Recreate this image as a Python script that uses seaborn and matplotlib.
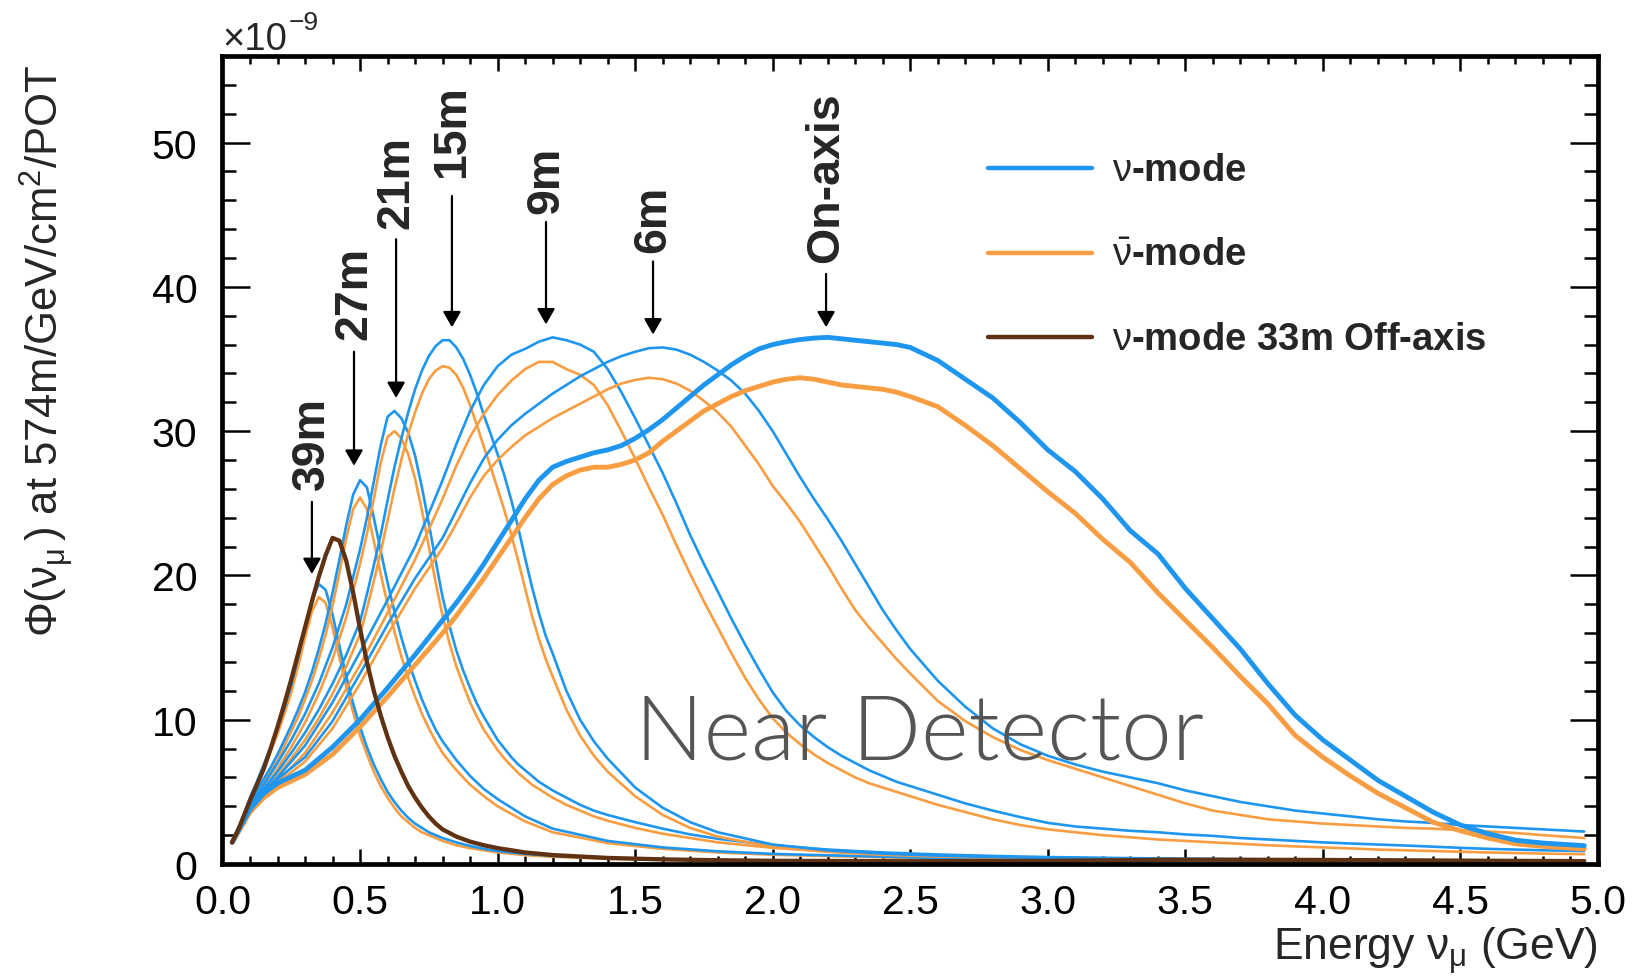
import matplotlib
matplotlib.use("Agg")
import matplotlib.pyplot as plt
from matplotlib.lines import Line2D
from matplotlib.ticker import MultipleLocator, FormatStrFormatter
import seaborn as sns
import pandas as pd

# ---------------------------------------------------------------- data
# energy sampling (GeV): fine for the narrow far off-axis peaks,
# coarser for the broad near-axis spectra
energy_narrow = [0.035, 0.06, 0.1, 0.125, 0.15, 0.175, 0.2, 0.225, 0.25, 0.275,
                 0.3, 0.325, 0.35, 0.375, 0.4, 0.425, 0.45, 0.475, 0.5, 0.525,
                 0.55, 0.575, 0.6, 0.625, 0.65, 0.675, 0.7, 0.725, 0.75, 0.775,
                 0.8, 0.85, 0.9, 0.95, 1.0, 1.1, 1.2, 1.4, 1.6, 1.8,
                 2.0, 2.5, 3.0, 3.5, 4.0, 4.5, 4.95]
energy_mid = [0.035, 0.06, 0.1, 0.15, 0.2, 0.25, 0.3, 0.35, 0.4, 0.45,
              0.5, 0.525, 0.55, 0.575, 0.6, 0.625, 0.65, 0.675, 0.7, 0.725,
              0.75, 0.775, 0.8, 0.825, 0.85, 0.875, 0.9, 0.925, 0.95, 0.975,
              1.0, 1.025, 1.05, 1.075, 1.1, 1.125, 1.15, 1.175, 1.2, 1.25,
              1.3, 1.35, 1.4, 1.5, 1.6, 1.7, 1.8, 2.0, 2.2, 2.4,
              2.6, 2.8, 3.0, 3.5, 4.0, 4.5, 4.95]
energy_wide = [0.035, 0.06, 0.1, 0.15, 0.2, 0.3, 0.4, 0.5, 0.6, 0.7,
               0.8, 0.85, 0.9, 0.95, 1.0, 1.05, 1.1, 1.15, 1.2, 1.25,
               1.3, 1.35, 1.4, 1.45, 1.5, 1.55, 1.6, 1.65, 1.7, 1.75,
               1.8, 1.85, 1.9, 1.95, 2.0, 2.05, 2.1, 2.15, 2.2, 2.25,
               2.3, 2.35, 2.4, 2.45, 2.5, 2.6, 2.7, 2.8, 2.9, 3.0,
               3.1, 3.2, 3.3, 3.4, 3.5, 3.6, 3.7, 3.8, 3.9, 4.0,
               4.1, 4.2, 4.3, 4.4, 4.5, 4.6, 4.7, 4.8, 4.95]

# numu flux at 574 m, in units of 1e-9 /GeV/cm2/POT
nu_39m = [1.5, 2.5, 4.6, 5.7, 6.9, 8.1, 9.4, 10.8, 12.4, 14.3,
          16.4, 18.3, 19.4, 19.0, 17.3, 15.1, 13.0, 11.1, 9.5, 8.1,
          6.9, 5.9, 5.0, 4.3, 3.7, 3.2, 2.8, 2.5, 2.2, 2.0,
          1.8, 1.5, 1.25, 1.05, 0.9, 0.7, 0.56, 0.41, 0.32, 0.27,
          0.23, 0.17, 0.14, 0.12, 0.11, 0.1, 0.09]
nubar_39m = [1.5, 2.4, 4.4, 5.5, 6.6, 7.8, 9.0, 10.4, 11.9, 13.7,
             15.7, 17.5, 18.5, 18.1, 16.4, 14.3, 12.3, 10.5, 8.9, 7.6,
             6.4, 5.4, 4.6, 3.9, 3.3, 2.9, 2.5, 2.2, 2.0, 1.8,
             1.6, 1.3, 1.1, 0.95, 0.8, 0.62, 0.5, 0.36, 0.29, 0.24,
             0.2, 0.15, 0.13, 0.12, 0.1, 0.09, 0.08]
nu_33m = [1.5, 2.5, 4.4, 5.5, 6.6, 8.0, 9.5, 11.1, 12.8, 14.6,
          16.4, 18.2, 19.9, 21.4, 22.6, 22.4, 21.0, 18.8, 16.3, 14.0,
          12.0, 10.3, 8.8, 7.5, 6.4, 5.4, 4.6, 3.9, 3.3, 2.8,
          2.4, 1.9, 1.55, 1.3, 1.1, 0.8, 0.62, 0.42, 0.32, 0.26,
          0.22, 0.19, 0.22, 0.3, 0.28, 0.23, 0.2]
nu_27m = [1.5, 2.6, 4.3, 5.1, 5.9, 6.7, 7.6, 8.6, 9.6, 10.7,
          11.9, 13.3, 14.9, 16.7, 18.8, 21.1, 23.5, 25.6, 26.6, 26.1,
          24.0, 21.7, 19.5, 17.5, 15.7, 14.1, 12.7, 11.4, 10.3, 9.3,
          8.5, 7.2, 6.1, 5.2, 4.5, 3.3, 2.45, 1.6, 1.15, 0.88,
          0.7, 0.46, 0.32, 0.26, 0.22, 0.2, 0.17]
nubar_27m = [1.5, 2.5, 4.1, 4.9, 5.6, 6.4, 7.2, 8.2, 9.2, 10.2,
             11.4, 12.7, 14.2, 15.9, 17.9, 20.2, 22.6, 24.6, 25.4, 24.6,
             22.4, 20.1, 18.0, 16.1, 14.4, 12.9, 11.6, 10.4, 9.4, 8.5,
             7.7, 6.5, 5.5, 4.7, 4.0, 2.95, 2.2, 1.45, 1.05, 0.8,
             0.64, 0.42, 0.3, 0.24, 0.2, 0.18, 0.15]

nu_21m = [1.5, 2.6, 4.1, 5.5, 7.0, 8.6, 10.4, 12.5, 15.0, 18.0,
          21.8, 24.0, 26.5, 29.0, 31.0, 31.4, 30.9, 29.9, 28.3, 26.1,
          23.6, 21.0, 18.5, 16.5, 14.8, 13.4, 12.2, 11.1, 10.2, 9.4,
          8.6, 8.0, 7.4, 6.9, 6.5, 6.1, 5.7, 5.4, 5.1, 4.6,
          4.1, 3.7, 3.4, 2.9, 2.45, 2.05, 1.75, 1.3, 1.0, 0.8,
          0.66, 0.56, 0.48, 0.36, 0.3, 0.26, 0.23]
nubar_21m = [1.5, 2.5, 3.9, 5.2, 6.6, 8.1, 9.8, 11.8, 14.2, 17.1,
             20.8, 22.9, 25.3, 27.8, 29.6, 30.0, 29.5, 28.4, 26.7, 24.5,
             22.0, 19.5, 17.2, 15.3, 13.7, 12.4, 11.2, 10.2, 9.3, 8.6,
             7.9, 7.3, 6.8, 6.3, 5.9, 5.5, 5.2, 4.9, 4.6, 4.1,
             3.7, 3.3, 3.0, 2.5, 2.1, 1.8, 1.5, 1.12, 0.87, 0.7,
             0.58, 0.5, 0.43, 0.32, 0.27, 0.23, 0.2]
nu_15m = [1.5, 2.5, 4.0, 5.2, 6.4, 7.7, 9.1, 10.7, 12.5, 14.5,
          16.8, 18.7, 20.7, 22.8, 25.2, 27.5, 29.5, 31.3, 32.9, 34.2,
          35.2, 35.9, 36.3, 36.3, 35.8, 35.0, 33.9, 32.6, 31.1, 29.8,
          28.4, 26.9, 25.2, 23.3, 21.2, 19.2, 17.4, 15.8, 14.6, 12.0,
          10.0, 8.5, 7.3, 5.3, 3.9, 2.9, 2.2, 1.35, 0.95, 0.72,
          0.58, 0.48, 0.42, 0.34, 0.29, 0.25, 0.23]
nubar_15m = [1.5, 2.4, 3.8, 5.0, 6.1, 7.3, 8.6, 10.1, 11.8, 13.7,
             15.9, 17.7, 19.6, 21.6, 23.8, 26.0, 28.0, 29.8, 31.3, 32.6,
             33.6, 34.2, 34.5, 34.4, 33.9, 33.0, 31.8, 30.4, 28.9, 27.5,
             26.0, 24.5, 22.8, 21.0, 19.1, 17.2, 15.6, 14.2, 13.0, 10.7,
             8.9, 7.5, 6.4, 4.7, 3.4, 2.5, 1.9, 1.18, 0.84, 0.64,
             0.52, 0.44, 0.38, 0.3, 0.26, 0.23, 0.2]

nu_9m = [1.5, 2.5, 3.9, 5.0, 6.0, 8.2, 11.2, 14.7, 18.3, 22.0,
         26.6, 29.1, 31.4, 33.2, 34.5, 35.3, 35.7, 36.2, 36.5, 36.3,
         36.0, 35.5, 34.3, 32.7, 30.9, 29.0, 27.1, 25.0, 22.8, 20.8,
         18.9, 17.0, 15.2, 13.5, 11.9, 10.6, 9.6, 8.8, 8.1, 7.5,
         7.0, 6.5, 6.1, 5.7, 5.4, 4.8, 4.2, 3.7, 3.25, 2.85,
         2.6, 2.45, 2.3, 2.2, 2.05, 1.95, 1.8, 1.7, 1.6, 1.5,
         1.42, 1.35, 1.28, 1.2, 1.12, 1.05, 1.0, 0.95, 0.9]
nubar_9m = [1.5, 2.4, 3.7, 4.8, 5.7, 7.7, 10.5, 13.8, 17.4, 21.1,
            25.3, 27.6, 29.6, 31.2, 32.5, 33.5, 34.3, 34.8, 34.8, 34.3,
            33.9, 33.2, 31.8, 30.0, 28.1, 26.1, 24.2, 22.1, 20.1, 18.2,
            16.4, 14.6, 12.9, 11.4, 10.1, 9.1, 8.3, 7.6, 7.0, 6.5,
            6.0, 5.6, 5.3, 5.0, 4.7, 4.1, 3.6, 3.1, 2.7, 2.4,
            2.2, 2.0, 1.85, 1.7, 1.6, 1.5, 1.4, 1.3, 1.22, 1.15,
            1.08, 1.0, 0.95, 0.9, 0.85, 0.8, 0.76, 0.72, 0.68]
nu_6m = [1.5, 2.5, 3.9, 5.0, 5.9, 7.4, 9.9, 13.2, 16.6, 19.8,
         22.6, 24.5, 26.4, 28.1, 29.4, 30.4, 31.2, 31.9, 32.6, 33.2,
         33.8, 34.3, 34.8, 35.2, 35.5, 35.75, 35.8, 35.65, 35.3, 34.8,
         34.2, 33.5, 32.6, 31.4, 30.0, 28.4, 26.8, 25.3, 23.9, 22.4,
         20.8, 19.2, 17.6, 16.2, 14.9, 12.7, 10.9, 9.4, 8.3, 7.5,
         6.9, 6.4, 6.0, 5.6, 5.1, 4.7, 4.3, 4.0, 3.7, 3.5,
         3.3, 3.1, 2.95, 2.85, 2.7, 2.6, 2.5, 2.4, 2.25]
nubar_6m = [1.5, 2.4, 3.7, 4.7, 5.6, 7.1, 9.4, 12.5, 15.9, 19.1,
            21.9, 23.6, 25.4, 26.9, 28.0, 28.9, 29.7, 30.3, 30.9, 31.4,
            31.9, 32.4, 32.9, 33.3, 33.55, 33.7, 33.6, 33.3, 32.8, 32.1,
            31.3, 30.3, 29.0, 27.7, 26.2, 25.0, 23.7, 22.2, 20.7, 19.1,
            17.6, 16.4, 15.3, 14.2, 13.2, 11.3, 9.9, 8.8, 7.9, 7.2,
            6.6, 6.0, 5.4, 4.8, 4.2, 3.7, 3.4, 3.1, 2.95, 2.8,
            2.7, 2.6, 2.5, 2.45, 2.35, 2.25, 2.15, 2.0, 1.8]
nu_onaxis = [1.5, 2.4, 3.8, 4.9, 5.6, 6.5, 8.1, 10.0, 12.2, 14.5,
             16.9, 18.1, 19.4, 20.8, 22.3, 23.8, 25.3, 26.6, 27.5, 27.9,
             28.2, 28.5, 28.7, 29.0, 29.5, 30.1, 30.8, 31.6, 32.4, 33.2,
             33.9, 34.6, 35.2, 35.7, 36.0, 36.2, 36.35, 36.45, 36.5, 36.4,
             36.3, 36.2, 36.1, 36.0, 35.8, 34.9, 33.6, 32.3, 30.6, 28.7,
             27.2, 25.3, 23.1, 21.5, 19.1, 17.0, 14.9, 12.5, 10.3, 8.6,
             7.2, 5.8, 4.7, 3.6, 2.7, 2.1, 1.65, 1.45, 1.27]
nubar_onaxis = [1.5, 2.3, 3.6, 4.6, 5.3, 6.2, 7.6, 9.5, 11.6, 13.8,
                16.0, 17.2, 18.5, 19.8, 21.2, 22.6, 24.0, 25.3, 26.3, 26.9,
                27.3, 27.5, 27.5, 27.7, 28.0, 28.5, 29.3, 30.0, 30.7, 31.4,
                31.9, 32.4, 32.8, 33.1, 33.4, 33.6, 33.7, 33.6, 33.4, 33.2,
                33.1, 33.0, 32.9, 32.7, 32.4, 31.7, 30.4, 29.0, 27.4, 25.8,
                24.3, 22.5, 20.9, 18.8, 16.9, 15.0, 13.0, 11.1, 8.9, 7.4,
                6.1, 4.9, 3.9, 2.9, 2.3, 1.8, 1.4, 1.22, 1.04]

# off-axis position labels and their arrows (data coordinates)
position_labels = ["39m", "27m", "21m", "15m", "9m", "6m", "On-axis"]
label_energy = [0.325, 0.478, 0.631, 0.834, 1.176, 1.565, 2.194]
label_bottom = [26.0, 36.4, 44.1, 47.6, 45.15, 42.45, 41.7]
arrow_tail = [25.1, 35.5, 43.3, 46.3, 44.5, 41.76, 40.9]
arrow_tip = [20.1, 27.6, 32.3, 37.2, 37.4, 36.7, 37.2]

legend_labels = [r"$\nu$-mode", r"$\bar{\nu}$-mode", r"$\nu$-mode 33m Off-axis"]

# ---------------------------------------------------------------- style
BLUE = "#1E96F0"
ORANGE = "#F99D42"
BROWN = "#5E3212"
THIN, THICK = 1.9, 3.5

sns.set_theme(style="ticks")
plt.rcParams["font.family"] = ["Liberation Sans", "DejaVu Sans"]
plt.rcParams["mathtext.fontset"] = "custom"
plt.rcParams["mathtext.rm"] = "Liberation Sans"
plt.rcParams["mathtext.it"] = "Liberation Sans"
plt.rcParams["mathtext.bf"] = "Liberation Sans:bold"

W, H = 1638, 978
fig = plt.figure(figsize=(W / 100, H / 100), dpi=100)
fig.patch.set_facecolor("white")
ax = fig.add_axes([222.5 / W, 1 - 865 / H, 1375.5 / W, 808 / H])
ax.set_facecolor("white")

curves = [
    (energy_narrow, nubar_39m, ORANGE, THIN, 2), (energy_narrow, nu_39m, BLUE, THIN, 2),
    (energy_narrow, nubar_27m, ORANGE, THIN, 2), (energy_narrow, nu_27m, BLUE, THIN, 2),
    (energy_mid, nubar_21m, ORANGE, THIN, 2), (energy_mid, nu_21m, BLUE, THIN, 2),
    (energy_mid, nubar_15m, ORANGE, THIN, 2), (energy_mid, nu_15m, BLUE, THIN, 2),
    (energy_wide, nubar_9m, ORANGE, THIN, 2), (energy_wide, nu_9m, BLUE, THIN, 2),
    (energy_wide, nubar_6m, ORANGE, THIN, 2), (energy_wide, nu_6m, BLUE, THIN, 2),
    (energy_wide, nubar_onaxis, ORANGE, THICK, 3), (energy_wide, nu_onaxis, BLUE, THICK, 3),
    (energy_narrow, nu_33m, BROWN, 3.1, 4),
]
for grid, values, color, lw, z in curves:
    frame = pd.DataFrame({"energy": grid, "flux": values})
    sns.lineplot(data=frame, x="energy", y="flux", ax=ax, color=color,
                 linewidth=lw, estimator=None, sort=False, legend=False,
                 zorder=z)

# ---------------------------------------------------------------- axes
ax.set_xlim(0, 5.0)
ax.set_ylim(0, 56)
ax.xaxis.set_major_locator(MultipleLocator(0.5))
ax.xaxis.set_minor_locator(MultipleLocator(0.1))
ax.yaxis.set_major_locator(MultipleLocator(10))
ax.yaxis.set_minor_locator(MultipleLocator(2))
ax.xaxis.set_major_formatter(FormatStrFormatter("%.1f"))
ax.yaxis.set_major_formatter(FormatStrFormatter("%d"))

for s in ax.spines.values():
    s.set_visible(True)
    s.set_linewidth(3.4)
    s.set_color("black")
    s.set_zorder(6)

ax.tick_params(axis="both", which="both", direction="in", top=True,
               right=True, color="black", width=1.8, labelsize=29.5,
               labelcolor="black")
ax.tick_params(axis="y", which="major", length=20, pad=18)
ax.tick_params(axis="y", which="minor", length=10)
ax.tick_params(axis="x", which="major", length=11, pad=14)
ax.tick_params(axis="x", which="minor", length=5.5)

ax.set_xlabel(r"Energy $\nu_{\mu}$ (GeV)", fontsize=32, loc="right",
              va="baseline")
ax.xaxis.set_label_coords(1.0, (865 - 961) / 808)
ax.set_ylabel(r"$\Phi(\nu_{\mu}\,)$ at 574m/GeV/cm$^{2}$/POT", fontsize=31.5,
              loc="top", va="baseline")
ax.yaxis.set_label_coords((60 - 222.5) / 1375.5, 0.99)

# common exponent of the flux axis
fig.text(222 / W, 1 - 50 / H, "\u00d710", fontsize=27.5, ha="left", va="baseline")
fig.text(289 / W, 1 - 30 / H, "\u22129", fontsize=19, ha="left", va="baseline")

# ---------------------------------------------------------------- annotations
for lab, ex, yb, yt, yp in zip(position_labels, label_energy, label_bottom,
                               arrow_tail, arrow_tip):
    ax.text(ex, yb, lab, rotation=90, ha="center", va="bottom",
            fontsize=33.5, fontweight="bold", zorder=7)
    ax.annotate("", xy=(ex, yp), xytext=(ex, yt),
                arrowprops=dict(arrowstyle="-|>,head_length=0.47,head_width=0.27",
                                mutation_scale=20, lw=1.6, color="black",
                                shrinkA=0, shrinkB=0), zorder=7)

nd = ax.text(1.5, 7.3, "Near Detector", fontsize=70, color="#555555",
             family=["Lato", "DejaVu Sans"], fontweight=300,
             ha="left", va="baseline", zorder=5)
fig.canvas.draw()
w = nd.get_window_extent().width
nd.set_fontsize(70 * 568 / w)

# ---------------------------------------------------------------- legend
legend_colors = [BLUE, ORANGE, BROWN]
legend_rows = [169, 254, 338]
for lab, col, yrow in zip(legend_labels, legend_colors, legend_rows):
    fig.add_artist(Line2D([988 / W, 1092 / W], [1 - yrow / H, 1 - yrow / H],
                          color=col, linewidth=3.2))
    fig.text(1112 / W, 1 - (yrow + 12) / H, lab, fontsize=27.5,
             fontweight="bold", ha="left", va="baseline")

fig.savefig("out.png", dpi=100, facecolor="white")
